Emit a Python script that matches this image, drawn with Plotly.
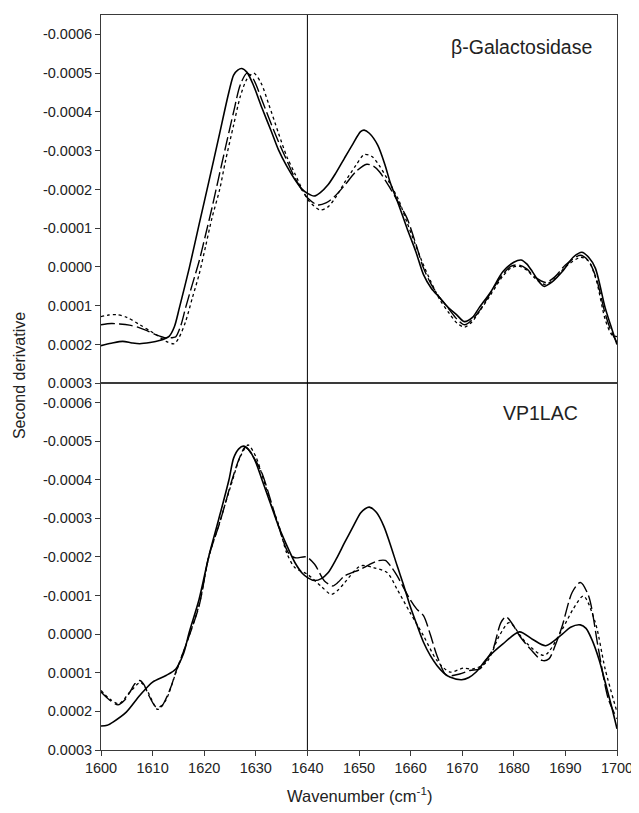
import plotly.graph_objects as go

# ---------------- data (second derivative values) ----------------
# Upper panel: beta-Galactosidase
gal_solid_x = [1600, 1602, 1604.2, 1606, 1607.5, 1609.5, 1611.3, 1613.2, 1614.2, 1615.2, 1617.1, 1619, 1620.9,
               1622.8, 1624.8, 1625.7, 1626.5, 1627.3, 1628.3, 1629.5, 1631.2, 1633, 1634.4, 1636, 1637.6, 1639,
               1640, 1641.3, 1642.5, 1644, 1645.5, 1647.2, 1648.8, 1650.3, 1651, 1652, 1653.6, 1655, 1656, 1657.7,
               1659.3, 1661, 1662.5, 1664, 1665.7, 1667.3, 1668.9, 1670.4, 1672, 1673.3, 1675.6, 1677.9, 1680,
               1681.4, 1682.5, 1683.6, 1685, 1685.9, 1687.5, 1689.4, 1691.5, 1693.2, 1694.5, 1695.8, 1697.7, 1699, 1700]
gal_solid_y = [2.03e-4, 1.97e-4, 1.92e-4, 1.96e-4, 1.98e-4, 1.95e-4, 1.90e-4, 1.79e-4, 1.55e-4, 1.05e-4, 0.03e-4,
               -1.09e-4, -2.2e-4, -3.33e-4, -4.52e-4, -4.95e-4, -5.08e-4, -5.12e-4, -5.02e-4, -4.7e-4, -4.1e-4,
               -3.5e-4, -3.02e-4, -2.6e-4, -2.25e-4, -2.0e-4, -1.9e-4, -1.83e-4, -1.92e-4, -2.12e-4, -2.42e-4,
               -2.81e-4, -3.17e-4, -3.49e-4, -3.53e-4, -3.45e-4, -3.15e-4, -2.65e-4, -2.2e-4, -1.6e-4, -1.0e-4,
               -0.4e-4, 0.2e-4, 0.55e-4, 0.8e-4, 1.05e-4, 1.23e-4, 1.41e-4, 1.3e-4, 1.05e-4, 0.63e-4, 0.12e-4,
               -0.12e-4, -0.18e-4, -0.08e-4, 0.12e-4, 0.4e-4, 0.5e-4, 0.38e-4, 0.12e-4, -0.25e-4, -0.38e-4,
               -0.25e-4, 0.03e-4, 1.05e-4, 1.6e-4, 2.0e-4]

gal_dash_x = [1600, 1602, 1603.6, 1605.5, 1607.5, 1609, 1610.7, 1612.6, 1614, 1614.5, 1615.5, 1616.4, 1617.7, 1619,
              1620.3, 1621.5, 1622.8, 1624.1, 1625.7, 1627, 1628.3, 1629.5, 1631.2, 1632.8, 1634.4, 1636, 1637.6,
              1640.1, 1642, 1643.6, 1645.2, 1647.3, 1649.4, 1651.5, 1652.8, 1654, 1656, 1657.7, 1659.3, 1661,
              1662.5, 1664, 1665.7, 1667.5, 1669, 1670.5, 1672, 1673.5, 1675.6, 1677.8, 1679.5, 1681, 1682.5,
              1684, 1686.2, 1688, 1690, 1692.9, 1694.5, 1696, 1697.7, 1699, 1700]
gal_dash_y = [1.49e-4, 1.46e-4, 1.47e-4, 1.5e-4, 1.57e-4, 1.65e-4, 1.75e-4, 1.83e-4, 1.82e-4, 1.8e-4, 1.5e-4,
              1.05e-4, 0.45e-4, -0.14e-4, -0.85e-4, -1.52e-4, -2.3e-4, -3.07e-4, -4.0e-4, -4.7e-4, -5.0e-4,
              -4.85e-4, -4.3e-4, -3.75e-4, -3.23e-4, -2.75e-4, -2.29e-4, -1.77e-4, -1.6e-4, -1.65e-4, -1.81e-4,
              -2.12e-4, -2.46e-4, -2.65e-4, -2.6e-4, -2.45e-4, -2.04e-4, -1.65e-4, -1.26e-4, -0.6e-4, 0.03e-4,
              0.45e-4, 0.8e-4, 1.1e-4, 1.35e-4, 1.49e-4, 1.35e-4, 1.1e-4, 0.65e-4, 0.2e-4, -0.02e-4, -0.05e-4,
              0.05e-4, 0.25e-4, 0.4e-4, 0.25e-4, -0.05e-4, -0.3e-4, -0.15e-4, 0.3e-4, 1.2e-4, 1.7e-4, 1.95e-4]

gal_dot_x = [1600, 1601.5, 1603, 1605, 1607.5, 1609.5, 1610.7, 1612.6, 1614.2, 1615.2, 1616.4, 1617.7, 1619, 1620.3,
             1621.5, 1623, 1624.1, 1625.7, 1627, 1628.3, 1629.6, 1631, 1632.5, 1634.4, 1636, 1637.6, 1639, 1640.3,
             1642.5, 1644, 1645.5, 1647.3, 1649.4, 1651, 1652.5, 1654, 1656, 1657.7, 1659.3, 1661, 1662.5, 1664,
             1665.7, 1667.5, 1669, 1670.5, 1672, 1673.5, 1675.6, 1677.8, 1679.5, 1681, 1682.5, 1684, 1686, 1688,
             1690, 1693, 1694.5, 1696, 1697.7, 1699, 1700]
gal_dot_y = [1.28e-4, 1.24e-4, 1.23e-4, 1.3e-4, 1.49e-4, 1.65e-4, 1.75e-4, 1.92e-4, 1.98e-4, 1.8e-4, 1.41e-4,
             0.8e-4, 0.2e-4, -0.55e-4, -1.26e-4, -2.0e-4, -2.72e-4, -3.66e-4, -4.4e-4, -4.85e-4, -5.0e-4,
             -4.75e-4, -4.2e-4, -3.45e-4, -2.85e-4, -2.4e-4, -2.0e-4, -1.7e-4, -1.47e-4, -1.55e-4, -1.8e-4,
             -2.2e-4, -2.62e-4, -2.9e-4, -2.85e-4, -2.6e-4, -2.15e-4, -1.72e-4, -1.15e-4, -0.55e-4, -0.05e-4,
             0.4e-4, 0.85e-4, 1.2e-4, 1.45e-4, 1.55e-4, 1.4e-4, 1.12e-4, 0.7e-4, 0.25e-4, 0.02e-4, -0.02e-4,
             0.08e-4, 0.28e-4, 0.45e-4, 0.3e-4, 0.0, -0.25e-4, -0.15e-4, 0.35e-4, 1.35e-4, 1.75e-4, 1.8e-4]

# Lower panel: VP1LAC
vp_solid_x = [1600, 1601.2, 1602.4, 1604.9, 1607.5, 1610, 1612.6, 1614.5, 1616, 1617.1, 1619, 1620.9, 1622.8,
              1624.8, 1625.7, 1626.7, 1627.6, 1628.8, 1630, 1631.2, 1632.8, 1634.4, 1636, 1637.6, 1639, 1640.1,
              1641.4, 1642.7, 1644, 1645.6, 1647.2, 1648.8, 1650.3, 1651.2, 1652, 1653.4, 1654.8, 1656, 1657.4,
              1658.7, 1659.9, 1661.2, 1662.5, 1663.8, 1665.1, 1666.4, 1667.6, 1669.9, 1671.3, 1672.7, 1675,
              1677.9, 1681.1, 1683.6, 1686.2, 1689.4, 1691, 1692.9, 1694, 1695.1, 1696.5, 1697.7, 1699, 1700]
vp_solid_y = [2.38e-4, 2.36e-4, 2.27e-4, 2.02e-4, 1.59e-4, 1.24e-4, 1.07e-4, 0.9e-4, 0.5e-4, -0.05e-4, -0.9e-4,
              -2.02e-4, -2.97e-4, -4.0e-4, -4.56e-4, -4.8e-4, -4.87e-4, -4.75e-4, -4.45e-4, -4.0e-4, -3.4e-4,
              -2.8e-4, -2.3e-4, -1.85e-4, -1.58e-4, -1.46e-4, -1.39e-4, -1.44e-4, -1.59e-4, -1.95e-4, -2.37e-4,
              -2.77e-4, -3.14e-4, -3.25e-4, -3.29e-4, -3.15e-4, -2.8e-4, -2.35e-4, -1.77e-4, -1.25e-4, -0.73e-4,
              -0.25e-4, 0.21e-4, 0.55e-4, 0.81e-4, 1.0e-4, 1.11e-4, 1.18e-4, 1.12e-4, 0.98e-4, 0.6e-4, 0.25e-4,
              -0.06e-4, 0.13e-4, 0.3e-4, 0.0, -0.18e-4, -0.24e-4, -0.15e-4, 0.13e-4, 0.65e-4, 1.24e-4, 1.9e-4,
              2.45e-4]

vp_dash_x = [1600, 1601.7, 1603.3, 1604.5, 1605.6, 1606.6, 1607.5, 1608.3, 1609.1, 1610.7, 1611.8, 1612.6, 1613.6,
             1614.5, 1616.4, 1619, 1620.9, 1623, 1625.4, 1626.8, 1628, 1629.5, 1631.2, 1632.8, 1634.4, 1636.3,
             1637.6, 1639.8, 1641.4, 1643.3, 1644.9, 1646, 1647.2, 1650.3, 1652, 1653.6, 1655.1, 1656.2, 1657.4,
             1659.9, 1661.2, 1662.5, 1663.8, 1665.1, 1667, 1669.5, 1671.5, 1673.4, 1675, 1676, 1677.5, 1678.5,
             1679.8, 1681.1, 1683.3, 1685.5, 1686.8, 1688, 1689.4, 1691.3, 1692.9, 1694.5, 1696.4, 1698.3, 1700]
vp_dash_y = [1.5e-4, 1.71e-4, 1.83e-4, 1.72e-4, 1.5e-4, 1.28e-4, 1.2e-4, 1.3e-4, 1.54e-4, 1.89e-4, 1.85e-4,
             1.67e-4, 1.35e-4, 0.98e-4, 0.3e-4, -0.73e-4, -2.02e-4, -2.88e-4, -4.0e-4, -4.55e-4, -4.85e-4,
             -4.6e-4, -4.17e-4, -3.5e-4, -2.8e-4, -2.11e-4, -1.98e-4, -2.0e-4, -1.81e-4, -1.38e-4, -1.25e-4,
             -1.35e-4, -1.51e-4, -1.68e-4, -1.8e-4, -1.9e-4, -1.91e-4, -1.75e-4, -1.51e-4, -0.9e-4, -0.65e-4,
             -0.48e-4, 0.0, 0.55e-4, 1.07e-4, 1.03e-4, 0.94e-4, 0.9e-4, 0.6e-4, 0.38e-4, -0.3e-4, -0.45e-4,
             -0.25e-4, 0.04e-4, 0.4e-4, 0.68e-4, 0.64e-4, 0.3e-4, -0.22e-4, -1.08e-4, -1.34e-4, -0.99e-4,
             0.38e-4, 1.67e-4, 2.19e-4]

vp_dot_x = [1600, 1601.7, 1603.5, 1605.6, 1607.7, 1609.1, 1611, 1612.6, 1614.5, 1616.4, 1619, 1620.9, 1623,
            1625.4, 1627, 1628.5, 1630, 1631.5, 1633, 1634.4, 1636, 1637.6, 1640, 1642.6, 1644.6, 1646, 1647.2,
            1650.3, 1652.9, 1655.5, 1657.4, 1659.9, 1662.5, 1665.1, 1667.6, 1670.2, 1672.1, 1674.7, 1677.2,
            1679.1, 1682.3, 1685.9, 1689.4, 1691.5, 1693.5, 1695.8, 1697.7, 1700]
vp_dot_y = [1.46e-4, 1.68e-4, 1.8e-4, 1.5e-4, 1.25e-4, 1.5e-4, 1.95e-4, 1.7e-4, 1.0e-4, 0.3e-4, -0.75e-4,
            -2.0e-4, -2.9e-4, -3.95e-4, -4.6e-4, -4.9e-4, -4.6e-4, -4.0e-4, -3.35e-4, -2.85e-4, -2.1e-4,
            -1.72e-4, -1.55e-4, -1.25e-4, -1.03e-4, -1.15e-4, -1.33e-4, -1.77e-4, -1.72e-4, -1.59e-4, -1.16e-4,
            -0.56e-4, 0.04e-4, 0.68e-4, 0.98e-4, 0.88e-4, 0.9e-4, 0.73e-4, 0.04e-4, -0.3e-4, 0.21e-4, 0.55e-4,
            -0.13e-4, -0.65e-4, -0.99e-4, -0.3e-4, 0.9e-4, 2.02e-4]

y_tick_vals = [-0.0006, -0.0005, -0.0004, -0.0003, -0.0002, -0.0001, 0.0, 0.0001, 0.0002, 0.0003]
y_tick_text = ["-0.0006", "-0.0005", "-0.0004", "-0.0003", "-0.0002", "-0.0001",
               "0.0000", "0.0001", "0.0002", "0.0003"]
x_tick_vals = [1600, 1610, 1620, 1630, 1640, 1650, 1660, 1670, 1680, 1690, 1700]

panel_labels = ["β-Galactosidase", "VP1LAC"]
marker_x = 1640

# ---------------- figure ----------------
FONT = "Liberation Sans, Arial, sans-serif"
AX = "#3a3a3a"

fig = go.Figure()

styles = [("solid", 1.6), ("14px,4px", 1.4), ("dot", 1.3)]
upper = [(gal_solid_x, gal_solid_y), (gal_dash_x, gal_dash_y), (gal_dot_x, gal_dot_y)]
lower = [(vp_solid_x, vp_solid_y), (vp_dash_x, vp_dash_y), (vp_dot_x, vp_dot_y)]

for (xs, ys), (dash, w) in zip(upper, styles):
    fig.add_trace(go.Scatter(x=xs, y=ys, mode="lines", xaxis="x2", yaxis="y2",
                             line=dict(color="black", width=w, dash=dash, shape="spline", smoothing=0.8),
                             showlegend=False, hoverinfo="skip"))
for (xs, ys), (dash, w) in zip(lower, styles):
    fig.add_trace(go.Scatter(x=xs, y=ys, mode="lines", xaxis="x", yaxis="y",
                             line=dict(color="black", width=w, dash=dash, shape="spline", smoothing=0.8),
                             showlegend=False, hoverinfo="skip"))

split = 0.499
yaxis_common = dict(range=[0.0003, -0.00065], tickmode="array", tickvals=y_tick_vals, ticktext=y_tick_text,
                    ticks="outside", ticklen=5, tickwidth=1, tickcolor=AX, showline=True, linecolor=AX,
                    linewidth=1, mirror=True, showgrid=False, zeroline=False, ticklabeloverflow="allow",
                    tickfont=dict(family=FONT, size=14.5, color="#222"))

# the page body adds an 8px offset; the figure is sized so that it fits the window without scrollbars
fig.update_layout(
    width=631, height=797,
    margin=dict(l=93, r=16, t=6, b=55),
    paper_bgcolor="white", plot_bgcolor="white",
    xaxis=dict(domain=[0, 1], range=[1600, 1700], anchor="y", tickmode="array", tickvals=x_tick_vals,
               ticks="outside", ticklen=5, tickwidth=1, tickcolor=AX, showline=True, linecolor=AX,
               linewidth=1, mirror=True, showgrid=False, zeroline=False, ticklabeloverflow="allow",
               tickfont=dict(family=FONT, size=14.5, color="#222")),
    xaxis2=dict(domain=[0, 1], range=[1600, 1700], anchor="y2", matches="x", showticklabels=False,
                ticks="", showline=True, linecolor=AX, linewidth=1, mirror=True, showgrid=False,
                zeroline=False),
    yaxis=dict(domain=[0, split], anchor="x", **yaxis_common),
    yaxis2=dict(domain=[split, 1], anchor="x2", **yaxis_common),
)

fig.add_shape(type="line", xref="x", yref="paper", x0=marker_x, x1=marker_x, y0=0, y1=1,
              line=dict(color="black", width=1))

fig.add_annotation(text=panel_labels[0], xref="paper", yref="paper", x=0.955, y=0.956,
                   xanchor="right", yanchor="middle", showarrow=False,
                   font=dict(family=FONT, size=19.5, color="#222"))
fig.add_annotation(text=panel_labels[1], xref="paper", yref="paper", x=0.928, y=0.459,
                   xanchor="right", yanchor="middle", showarrow=False,
                   font=dict(family=FONT, size=19.5, color="#222"))

fig.add_annotation(text="Second derivative", xref="paper", yref="paper", x=-0.159, y=0.51,
                   xanchor="center", yanchor="middle", textangle=-90, showarrow=False,
                   font=dict(family=FONT, size=16, color="#222"))
fig.add_annotation(text="Wavenumber (cm<sup>-1</sup>)", xref="paper", yref="paper", x=0.5, y=-0.061,
                   xanchor="center", yanchor="middle", showarrow=False,
                   font=dict(family=FONT, size=16.5, color="#222"))

fig.write_html("out.html")
